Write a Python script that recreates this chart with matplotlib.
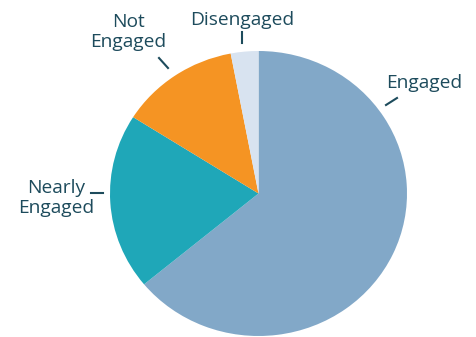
import matplotlib
matplotlib.use('Agg')
import matplotlib.pyplot as plt
from matplotlib.lines import Line2D

# -------------------- DATA --------------------
labels = ["Engaged", "Nearly\nEngaged", "Not\nEngaged", "Disengaged"]
values = [64, 20, 13, 3]
colors = ["#82a8c8", "#1fa7b8", "#f59423", "#d8e3f0"]

TEXT = "#1d4b5c"
W, H = 476, 337

plt.rcParams['font.family'] = ['Open Sans', 'DejaVu Sans']

fig = plt.figure(figsize=(W / 100, H / 100), dpi=100)

# pie bbox in pixels: x 110..407, y 51..336
ax = fig.add_axes([110 / W, (H - 336) / H, 297 / W, 285 / H])
ax.pie(values, colors=colors, startangle=90, counterclock=False,
       wedgeprops=dict(linewidth=0))
ax.set_aspect('auto')
ax.set_xlim(-1, 1)
ax.set_ylim(-1, 1)
ax.axis('off')


def px(x, y):
    return x / W, 1 - y / H


# label positions (pixel centre) and leader lines (pixel endpoints)
label_pos = [(424, 83), (56, 198), (128, 32), (242, 20)]
leaders = [((386, 105), (397, 98)),
           ((91, 193), (103, 193)),
           ((159, 58), (168, 68)),
           ((242, 32), (242, 43))]

for lab, (x, y), (p0, p1) in zip(labels, label_pos, leaders):
    fig.text(*px(x, y), lab, ha='center', va='center', fontsize=13.8,
             color=TEXT, linespacing=1.15)
    a, b = px(*p0), px(*p1)
    fig.add_artist(Line2D([a[0], b[0]], [a[1], b[1]], color=TEXT, lw=1.5,
                          transform=fig.transFigure))

fig.savefig("out.png", dpi=100)
